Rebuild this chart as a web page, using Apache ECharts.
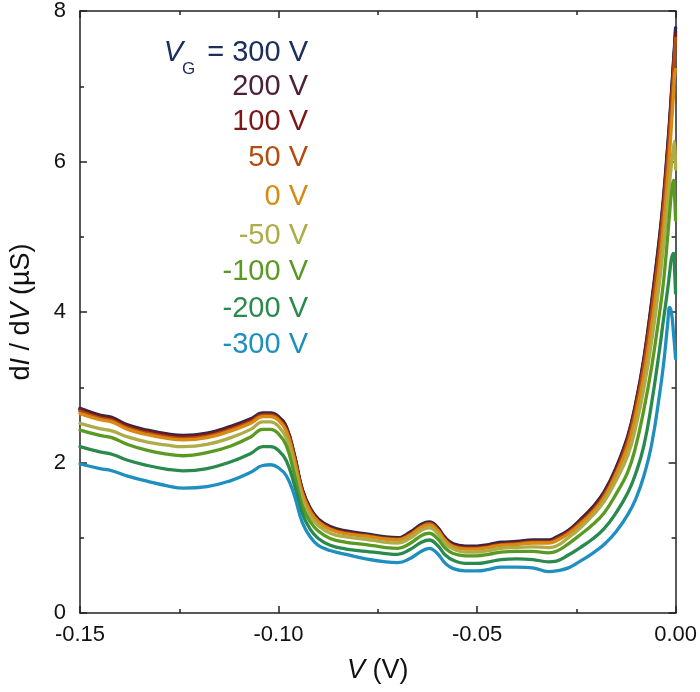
<!DOCTYPE html>
<html>
<head>
<meta charset="utf-8">
<script src="https://cdn.jsdelivr.net/npm/echarts@6/dist/echarts.min.js"></script>
<style>html,body{margin:0;padding:0;background:#fff}#c{width:700px;height:692px}</style>
</head>
<body>
<div id="c"></div>
<script>
// Bias voltage V (V)
const V = [-0.150,-0.145,-0.142,-0.138,-0.133,-0.128,-0.124,-0.118,-0.112,-0.107,-0.104,-0.102,-0.100,-0.098,-0.096,-0.094,-0.092,-0.090,-0.087,-0.083,-0.078,-0.073,-0.070,-0.067,-0.064,-0.062,-0.060,-0.058,-0.056,-0.053,-0.050,-0.047,-0.044,-0.040,-0.036,-0.032,-0.030,-0.027,-0.024,-0.021,-0.018,-0.015,-0.012,-0.010,-0.008,-0.006,-0.004,-0.003,-0.002,-0.0015,-0.001,-0.0005,-0.00025,0];

// dI/dV (µS) for each gate voltage
const G_p300 = [2.72,2.63,2.60,2.50,2.43,2.38,2.36,2.39,2.48,2.58,2.66,2.66,2.61,2.47,2.10,1.64,1.39,1.25,1.15,1.09,1.05,1.01,1.00,1.07,1.18,1.21,1.14,1.00,0.92,0.89,0.89,0.91,0.94,0.95,0.97,0.97,1.01,1.10,1.24,1.40,1.61,1.93,2.36,2.80,3.38,4.15,5.02,5.55,6.20,6.55,6.95,7.35,7.55,7.78];
const G_p200 = [2.71,2.62,2.59,2.49,2.42,2.37,2.35,2.38,2.47,2.57,2.65,2.65,2.60,2.46,2.09,1.63,1.38,1.24,1.14,1.08,1.04,1.00,0.99,1.06,1.17,1.20,1.13,0.99,0.91,0.88,0.88,0.90,0.93,0.94,0.96,0.96,1.00,1.09,1.23,1.39,1.60,1.91,2.34,2.78,3.36,4.12,4.98,5.51,6.16,6.51,6.91,7.31,7.51,7.73];
const G_p100 = [2.70,2.61,2.58,2.48,2.41,2.36,2.34,2.37,2.46,2.56,2.64,2.64,2.59,2.45,2.08,1.62,1.37,1.23,1.13,1.07,1.03,0.99,0.98,1.05,1.16,1.19,1.12,0.98,0.90,0.87,0.87,0.89,0.92,0.93,0.95,0.95,0.99,1.08,1.22,1.37,1.58,1.89,2.32,2.76,3.33,4.08,4.94,5.47,6.12,6.47,6.87,7.27,7.47,7.69];
const G_p50  = [2.68,2.59,2.56,2.46,2.39,2.34,2.32,2.35,2.44,2.54,2.63,2.63,2.58,2.43,2.06,1.60,1.36,1.22,1.12,1.06,1.03,0.99,0.98,1.04,1.15,1.19,1.11,0.97,0.89,0.86,0.86,0.88,0.91,0.92,0.94,0.94,0.98,1.07,1.20,1.35,1.56,1.87,2.29,2.72,3.28,4.01,4.87,5.40,6.03,6.38,6.78,7.18,7.42,7.64];
const G_0    = [2.65,2.57,2.54,2.44,2.37,2.32,2.30,2.33,2.42,2.52,2.61,2.61,2.56,2.41,2.03,1.58,1.34,1.21,1.11,1.05,1.02,0.98,0.97,1.03,1.14,1.17,1.10,0.96,0.88,0.85,0.85,0.87,0.90,0.91,0.93,0.93,0.96,1.05,1.18,1.33,1.53,1.84,2.22,2.63,3.15,3.83,4.65,5.17,5.78,6.12,6.52,6.92,7.14,7.22];
const G_m50  = [2.52,2.45,2.42,2.34,2.27,2.23,2.21,2.24,2.33,2.44,2.54,2.54,2.48,2.32,1.94,1.50,1.28,1.16,1.06,1.01,0.98,0.94,0.93,0.99,1.10,1.13,1.06,0.92,0.85,0.81,0.81,0.83,0.86,0.87,0.88,0.87,0.89,1.00,1.13,1.29,1.48,1.76,2.10,2.48,2.98,3.62,4.42,4.90,5.45,5.72,5.98,6.20,6.27,5.90];
const G_m100 = [2.43,2.36,2.33,2.24,2.16,2.11,2.09,2.13,2.22,2.34,2.44,2.44,2.38,2.22,1.84,1.42,1.21,1.09,0.99,0.94,0.91,0.87,0.86,0.92,1.03,1.06,0.99,0.86,0.79,0.76,0.76,0.78,0.81,0.82,0.82,0.80,0.82,0.92,1.04,1.17,1.33,1.58,1.88,2.22,2.70,3.28,4.00,4.42,5.00,5.32,5.60,5.75,5.55,5.22];
const G_m200 = [2.21,2.14,2.11,2.03,1.96,1.91,1.89,1.92,2.01,2.12,2.21,2.21,2.16,2.02,1.70,1.32,1.11,0.99,0.90,0.85,0.82,0.79,0.78,0.84,0.94,0.97,0.90,0.77,0.70,0.66,0.66,0.68,0.71,0.72,0.71,0.68,0.69,0.77,0.87,0.98,1.12,1.33,1.60,1.86,2.22,2.80,3.52,3.92,4.30,4.52,4.72,4.78,4.55,4.25];
const G_m300 = [1.98,1.92,1.89,1.82,1.75,1.69,1.66,1.68,1.76,1.87,1.96,1.97,1.93,1.82,1.56,1.20,1.01,0.90,0.83,0.78,0.72,0.68,0.67,0.72,0.82,0.86,0.79,0.66,0.59,0.56,0.56,0.58,0.61,0.61,0.60,0.55,0.56,0.60,0.69,0.79,0.91,1.08,1.31,1.52,1.82,2.25,2.92,3.32,3.84,4.06,3.98,3.70,3.55,3.38];

const seriesLabels = ['300 V','200 V','100 V','50 V','0 V','-50 V','-100 V','-200 V','-300 V'];
const seriesValues = [G_p300,G_p200,G_p100,G_p50,G_0,G_m50,G_m100,G_m200,G_m300];
const seriesColors = ['#1c2d60','#4b2038','#7d1818','#b04e12','#d98a12','#adac48','#5a9a22','#2a8a4e','#1e8fbf'];
const labelY = [53,87,122,158,197,236,272,309,345];

const xTicks = [-0.15,-0.10,-0.05,0.00];
const yTicks = [0,2,4,6,8];

const FONT = '"Liberation Sans", Arial, sans-serif';
const AX = '#222';

const chart = echarts.init(document.getElementById('c'), null, {renderer:'canvas'});

const series = seriesValues.map((vals, i) => ({
  name: seriesLabels[i],
  type: 'line',
  xAxisIndex: 0, yAxisIndex: 0,
  data: V.map((v, k) => [v, vals[k]]),
  showSymbol: false,
  smooth: 0.45,
  lineStyle: { width: 3.3, color: seriesColors[i], join: 'round', cap: 'round' },
  itemStyle: { color: seriesColors[i] },
  z: 2 + i
}));

const graphics = [];
seriesLabels.forEach((lab, i) => {
  graphics.push({
    type: 'text', x: 308, y: labelY[i],
    style: {
      text: i === 0 ? '= ' + lab : lab,
      fill: seriesColors[i], font: '29px ' + FONT,
      textAlign: 'right', textVerticalAlign: 'middle'
    }
  });
});
graphics.push({ type: 'text', x: 183, y: labelY[0],
  style: { text: 'V', fill: seriesColors[0], font: 'italic 29px ' + FONT, textAlign: 'right', textVerticalAlign: 'middle' } });
graphics.push({ type: 'text', x: 182, y: 69,
  style: { text: 'G', fill: seriesColors[0], font: '17px ' + FONT, textAlign: 'left', textVerticalAlign: 'middle' } });

const commonTick = { inside: true, length: 7, lineStyle: { color: AX, width: 1.5 } };
const commonMinor = { show: true, splitNumber: 2, length: 4, lineStyle: { color: AX, width: 1.5 } };

chart.setOption({
  animation: false,
  backgroundColor: '#fff',
  grid: { left: 76, right: 22, top: 11, bottom: 79, containLabel: false },
  xAxis: [
    { type: 'value', position: 'bottom', min: xTicks[0], max: xTicks[xTicks.length-1], interval: 0.05,
      axisLine: { show: true, onZero: false, lineStyle: { color: AX, width: 1.5 } },
      axisTick: commonTick, minorTick: commonMinor, splitLine: { show: false },
      axisLabel: { fontSize: 22, fontFamily: FONT, color: '#111', margin: 11,
        formatter: v => Math.abs(v) < 1e-9 ? '0.00' : v.toFixed(2) },
      name: '{i|V} (V)', nameLocation: 'middle', nameGap: 44,
      nameTextStyle: { fontSize: 27, fontFamily: FONT, color: '#111',
        rich: { i: { fontStyle: 'italic', fontSize: 27, fontFamily: FONT, color: '#111' } } } },
    { type: 'value', position: 'top', min: xTicks[0], max: xTicks[xTicks.length-1], interval: 0.05,
      axisLine: { show: true, onZero: false, lineStyle: { color: AX, width: 1.5 } },
      axisTick: commonTick, minorTick: commonMinor, splitLine: { show: false },
      axisLabel: { show: false } }
  ],
  yAxis: [
    { type: 'value', position: 'left', min: yTicks[0], max: yTicks[yTicks.length-1], interval: 2,
      axisLine: { show: true, onZero: false, lineStyle: { color: AX, width: 1.5 } },
      axisTick: commonTick, minorTick: commonMinor, splitLine: { show: false },
      axisLabel: { fontSize: 22, fontFamily: FONT, color: '#111', margin: 14 },
      name: 'd{i|I} / d{i|V} (µS)', nameLocation: 'middle', nameGap: 45,
      nameTextStyle: { fontSize: 27, fontFamily: FONT, color: '#111',
        rich: { i: { fontStyle: 'italic', fontSize: 27, fontFamily: FONT, color: '#111' } } } },
    { type: 'value', position: 'right', min: yTicks[0], max: yTicks[yTicks.length-1], interval: 2,
      axisLine: { show: true, onZero: false, lineStyle: { color: AX, width: 1.5 } },
      axisTick: commonTick, minorTick: commonMinor, splitLine: { show: false },
      axisLabel: { show: false } }
  ],
  series: series,
  graphic: graphics
});
</script>
</body>
</html>
